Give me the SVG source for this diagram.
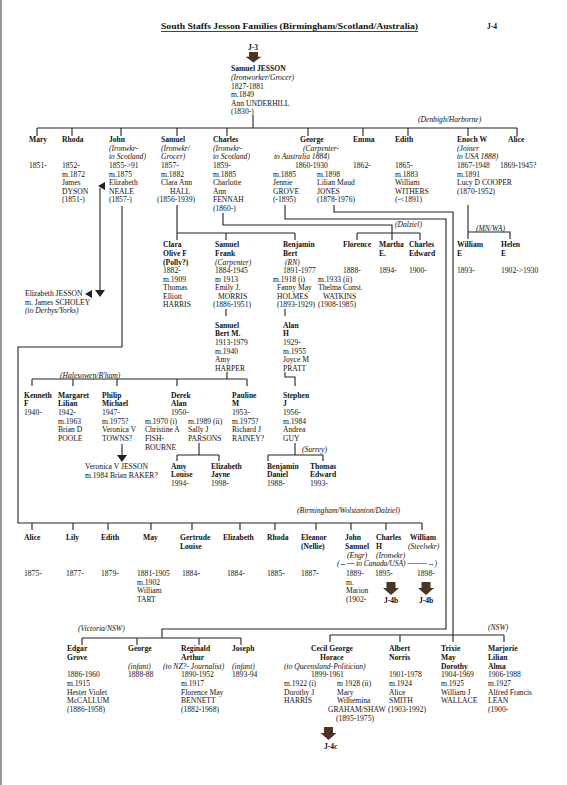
<svg xmlns="http://www.w3.org/2000/svg" width="567" height="785" viewBox="0 0 567 785">
<style>
.t{font-family:"Liberation Serif","Times New Roman",serif;font-size:7.6px;fill:#111}
.b{font-weight:bold}
.i{font-style:italic}
.ln{fill:none;stroke:#222;stroke-width:1.1}
.ah{fill:#222}
.blk{fill:#4a3426}
</style>
<defs>
<path id="barrow" d="M-4.5 0h9v6h3.5l-8 7l-8-7h3.5z"/>
</defs>
<rect x="0" y="0" width="567" height="785" fill="#fff"/>
<rect x="0" y="0" width="2" height="785" fill="#9a9a9a"/>

<g id="title">
<text class="t b" x="161" y="29" font-size="9.2" textLength="257" lengthAdjust="spacingAndGlyphs">South Staffs Jesson Families (Birmingham/Scotland/Australia)</text>
<line x1="161" y1="31.5" x2="418" y2="31.5" stroke="#111" stroke-width="0.8"/>
<text class="t b" x="487" y="29" font-size="8.5">J-4</text>
</g>

<g id="connectors">
<path class="ln" d="M253 115V128M37 128H517M37 128v8M72 128v8M121 128v8M177 128v8M227 128v8M308 128v8M363 128v8M408 128v8M468 128v8M517 128v8" stroke-width="1.4"/>
<path class="ln" d="M177 205V240M177 233H295M226 233v7M295 233v7"/>
<path class="ln" d="M223 213V225H392V240M357 233H420M357 233v7M420 233v7"/>
<path class="ln" d="M285 205V219H446V629H162V638M82 638H241M82 638v7M137 638v7M199 638v7M241 638v7"/>
<path class="ln" d="M334 205V212H453V642M330 635H504M330 635v7M400 635v7M504 635v7"/>
<path class="ln" d="M468 205V239M468 232H510V239"/>
<path class="ln" d="M122 206V347H18V523H422M32 523v7M73 523v7M108 523v7M151 523v7M192 523v7M240 523v7M275 523v7M316 523v7M351 523v7M386 523v7M422 523v7"/>
<path class="ln" d="M100 188V291"/>
<polygon class="ah" points="98,186 105,182 105,190"/>
<polygon class="ah" points="95,290 105,290 100,297"/>
<polygon class="ah" points="85,294 92,290 92,298"/>
<path class="ln" d="M226 309V316M285 309V316"/>
<path class="ln" d="M227 372V379M32 379H247M32 379v7M73 379v7M117 379v7M177 379v7M247 379v7"/>
<path class="ln" d="M285 372V377H295V386"/>
<path class="ln" d="M122 444V456"/>
<polygon class="ah" points="117,455 127,455 122,462"/>
<path class="ln" d="M199 443V455M177 455H219M177 455v6M219 455v6"/>
<path class="ln" d="M295 443V455M268 455H323M268 455v6M323 455v6"/>
</g>

<g id="labels">
<text class="t i" x="418" y="122">(Denbigh/Harborne)</text>
<text class="t i" x="395" y="227">(Dalziel)</text>
<text class="t i" x="476" y="231">(MN/WA)</text>
<text class="t i" x="60" y="378">(Halesowen/B'ham)</text>
<text class="t i" x="302" y="452">(Surrey)</text>
<text class="t i" x="297" y="513">(Birmingham/Wolstanton/Dalziel)</text>
<text class="t i" x="78" y="631">(Victoria/NSW)</text>
<text class="t i" x="488" y="630">(NSW)</text>
</g>

<g id="samuel-jesson">
<text class="t b" x="248" y="50" font-size="8.5">J-3</text>
<use href="#barrow" class="blk" transform="translate(253.5,52) scale(1,0.8)"/>
<text class="t" x="231" y="71"><tspan class="b">Samuel JESSON</tspan><tspan class="i" x="231" y="80">(Ironworker/Grocer)</tspan><tspan x="231" y="88.5">1827-1881</tspan><tspan x="231" y="97">m.1849</tspan><tspan x="231" y="105.5">Ann UNDERHILL</tspan><tspan x="231" y="114">(1830-)</tspan></text>
</g>

<g id="mary"><text class="t" x="29" y="142"><tspan class="b">Mary</tspan><tspan x="29" y="168">1851-</tspan></text></g>
<g id="rhoda"><text class="t" x="62" y="142"><tspan class="b">Rhoda</tspan><tspan x="62" y="168">1852-</tspan><tspan x="62" y="176.5">m.1872</tspan><tspan x="62" y="185">James</tspan><tspan x="62" y="193.5">DYSON</tspan><tspan x="62" y="202">(1851-)</tspan></text></g>
<g id="john"><text class="t" x="109" y="142"><tspan class="b">John</tspan><tspan class="i" x="109" y="150.5">(Ironwkr-</tspan><tspan class="i" x="109" y="159">to Scotland)</tspan><tspan x="109" y="168">1855-&gt;91</tspan><tspan x="109" y="176.5">m.1875</tspan><tspan x="109" y="185">Elizabeth</tspan><tspan x="109" y="193.5">NEALE</tspan><tspan x="109" y="202">(1857-)</tspan></text></g>
<g id="samuel"><text class="t" x="161" y="142"><tspan class="b">Samuel</tspan><tspan class="i" x="161" y="150.5">(Ironwkr/</tspan><tspan class="i" x="161" y="159">Grocer)</tspan><tspan x="161" y="168">1857-</tspan><tspan x="161" y="176.5">m.1882</tspan><tspan x="161" y="185">Clara Ann</tspan><tspan x="170" y="193.5">HALL</tspan><tspan x="157" y="202">(1856-1939)</tspan></text></g>
<g id="charles"><text class="t" x="213" y="142"><tspan class="b">Charles</tspan><tspan class="i" x="213" y="150.5">(Ironwkr-</tspan><tspan class="i" x="213" y="159">to Scotland)</tspan><tspan x="213" y="168">1859-</tspan><tspan x="213" y="176.5">m.1885</tspan><tspan x="213" y="185">Charlotte</tspan><tspan x="213" y="193.5">Ann</tspan><tspan x="213" y="202">FENNAH</tspan><tspan x="213" y="210.5">(1860-)</tspan></text></g>
<g id="george"><text class="t" x="300" y="142"><tspan class="b">George</tspan><tspan class="i" x="303" y="150.5">(Carpenter-</tspan><tspan class="i" x="274" y="159">to Australia 1884)</tspan><tspan x="295" y="168">1860-1930</tspan><tspan x="273" y="176.5">m.1885</tspan><tspan x="273" y="185">Jennie</tspan><tspan x="273" y="193.5">GROVE</tspan><tspan x="273" y="202">(-1895)</tspan><tspan x="317" y="176.5">m.1898</tspan><tspan x="317" y="185">Lilian Maud</tspan><tspan x="317" y="193.5">JONES</tspan><tspan x="317" y="202">(1878-1976)</tspan></text></g>
<g id="emma"><text class="t" x="353" y="142"><tspan class="b">Emma</tspan><tspan x="353" y="168">1862-</tspan></text></g>
<g id="edith"><text class="t" x="395" y="142"><tspan class="b">Edith</tspan><tspan x="395" y="168">1865-</tspan><tspan x="395" y="176.5">m.1883</tspan><tspan x="395" y="185">William</tspan><tspan x="395" y="193.5">WITHERS</tspan><tspan x="395" y="202">(-&lt;1891)</tspan></text></g>
<g id="enoch"><text class="t" x="457" y="142"><tspan class="b">Enoch W</tspan><tspan class="i" x="457" y="150.5">(Joiner</tspan><tspan class="i" x="457" y="159">to USA 1888)</tspan><tspan x="457" y="168">1867-1948</tspan><tspan x="457" y="176.5">m.1891</tspan><tspan x="457" y="185">Lucy D COOPER</tspan><tspan x="457" y="193.5">(1870-1952)</tspan></text></g>
<g id="alice"><text class="t" x="508" y="142"><tspan class="b">Alice</tspan><tspan x="500" y="168">1869-1945?</tspan></text></g>

<g id="clara"><text class="t" x="163" y="247"><tspan class="b">Clara</tspan><tspan class="b" x="163" y="256">Olive F</tspan><tspan class="b" x="163" y="264.5">(Polly?)</tspan><tspan x="163" y="273">1882-</tspan><tspan x="163" y="281.5">m.1909</tspan><tspan x="163" y="290">Thomas</tspan><tspan x="163" y="298.5">Elliott</tspan><tspan x="163" y="307">HARRIS</tspan></text></g>
<g id="samuel-frank"><text class="t" x="215" y="247"><tspan class="b">Samuel</tspan><tspan class="b" x="215" y="256">Frank</tspan><tspan class="i" x="215" y="264.5">(Carpenter)</tspan><tspan x="215" y="273">1884-1945</tspan><tspan x="215" y="281.5">m 1913</tspan><tspan x="215" y="290">Emily J.</tspan><tspan x="218" y="298.5">MORRIS</tspan><tspan x="213" y="307">(1886-1951)</tspan></text></g>
<g id="benjamin-bert"><text class="t" x="283" y="247"><tspan class="b">Benjamin</tspan><tspan class="b" x="283" y="256">Bert</tspan><tspan class="i" x="285" y="264.5">(RN)</tspan><tspan x="283" y="273">1891-1977</tspan><tspan x="273" y="281.5">m.1918 (i)</tspan><tspan x="277" y="290">Fanny May</tspan><tspan x="277" y="298.5">HOLMES</tspan><tspan x="277" y="307">(1893-1929)</tspan><tspan x="318" y="281.5">m.1933 (ii)</tspan><tspan x="318" y="290">Thelma Const.</tspan><tspan x="323" y="298.5">WATKINS</tspan><tspan x="318" y="307">(1908-1985)</tspan></text></g>
<g id="florence"><text class="t" x="343" y="247"><tspan class="b">Florence</tspan><tspan x="343" y="273">1888-</tspan></text></g>
<g id="martha"><text class="t" x="379" y="247"><tspan class="b">Martha</tspan><tspan class="b" x="379" y="256">E.</tspan><tspan x="379" y="273">1894-</tspan></text></g>
<g id="charles-edward"><text class="t" x="409" y="247"><tspan class="b">Charles</tspan><tspan class="b" x="409" y="256">Edward</tspan><tspan x="409" y="273">1900-</tspan></text></g>
<g id="william-e"><text class="t" x="457" y="247"><tspan class="b">William</tspan><tspan class="b" x="457" y="256">E</tspan><tspan x="457" y="273">1893-</tspan></text></g>
<g id="helen-e"><text class="t" x="501" y="247"><tspan class="b">Helen</tspan><tspan class="b" x="501" y="256">E</tspan><tspan x="501" y="273">1902-&gt;1930</tspan></text></g>

<g id="elizabeth-jesson"><text class="t" x="25" y="295.5">Elizabeth JESSON<tspan x="25" y="304.5">m. James SCHOLEY</tspan><tspan class="i" x="25" y="313">(to Derbys/Yorks)</tspan></text></g>

<g id="samuel-bert"><text class="t" x="215" y="327.5"><tspan class="b">Samuel</tspan><tspan class="b" x="215" y="336">Bert M.</tspan><tspan x="215" y="345">1913-1979</tspan><tspan x="215" y="353.5">m.1940</tspan><tspan x="215" y="362">Amy</tspan><tspan x="215" y="371">HARPER</tspan></text></g>
<g id="alan-h"><text class="t" x="283" y="327.5"><tspan class="b">Alan</tspan><tspan class="b" x="283" y="336">H</tspan><tspan x="283" y="345">1929-</tspan><tspan x="283" y="353.5">m.1955</tspan><tspan x="283" y="362">Joyce M</tspan><tspan x="283" y="371">PRATT</tspan></text></g>

<g id="kenneth"><text class="t" x="24" y="397.5"><tspan class="b">Kenneth</tspan><tspan class="b" x="24" y="406">F</tspan><tspan x="24" y="414.5">1940-</tspan></text></g>
<g id="margaret"><text class="t" x="58" y="397.5"><tspan class="b">Margaret</tspan><tspan class="b" x="58" y="406">Lilian</tspan><tspan x="58" y="414.5">1942-</tspan><tspan x="58" y="423.5">m.1963</tspan><tspan x="58" y="432">Brian D</tspan><tspan x="58" y="441">POOLE</tspan></text></g>
<g id="philip"><text class="t" x="102" y="397.5"><tspan class="b">Philip</tspan><tspan class="b" x="102" y="406">Michael</tspan><tspan x="102" y="414.5">1947-</tspan><tspan x="102" y="423.5">m.1975?</tspan><tspan x="102" y="432">Veronica V</tspan><tspan x="102" y="441">TOWNS?</tspan></text></g>
<g id="derek"><text class="t" x="171" y="397.5"><tspan class="b">Derek</tspan><tspan class="b" x="171" y="406">Alan</tspan><tspan x="171" y="414.5">1950-</tspan><tspan x="145" y="423.5">m.1970 (i)</tspan><tspan x="145" y="432">Christine A</tspan><tspan x="145" y="441">FISH-</tspan><tspan x="145" y="450">BOURNE</tspan><tspan x="188" y="423.5">m.1989 (ii)</tspan><tspan x="188" y="432">Sally J</tspan><tspan x="188" y="441">PARSONS</tspan></text></g>
<g id="pauline"><text class="t" x="232" y="397.5"><tspan class="b">Pauline</tspan><tspan class="b" x="232" y="406">M</tspan><tspan x="232" y="414.5">1953-</tspan><tspan x="232" y="423.5">m.1975?</tspan><tspan x="232" y="432">Richard J</tspan><tspan x="232" y="441">RAINEY?</tspan></text></g>
<g id="stephen"><text class="t" x="283" y="397.5"><tspan class="b">Stephen</tspan><tspan class="b" x="283" y="406">J</tspan><tspan x="283" y="414.5">1956-</tspan><tspan x="283" y="423.5">m.1984</tspan><tspan x="283" y="432">Andrea</tspan><tspan x="283" y="441">GUY</tspan></text></g>

<g id="veronica"><text class="t" x="85" y="469">Veronica V JESSON<tspan x="85" y="477.5">m.1984 Brian BAKER?</tspan></text></g>
<g id="amy"><text class="t" x="171" y="468.5"><tspan class="b">Amy</tspan><tspan class="b" x="171" y="477">Louise</tspan><tspan x="171" y="486">1994-</tspan></text></g>
<g id="elizabeth-jayne"><text class="t" x="211" y="468.5"><tspan class="b">Elizabeth</tspan><tspan class="b" x="211" y="477">Jayne</tspan><tspan x="211" y="486">1998-</tspan></text></g>
<g id="benjamin-daniel"><text class="t" x="267" y="468.5"><tspan class="b">Benjamin</tspan><tspan class="b" x="267" y="477">Daniel</tspan><tspan x="267" y="486">1988-</tspan></text></g>
<g id="thomas-edward"><text class="t" x="310" y="468.5"><tspan class="b">Thomas</tspan><tspan class="b" x="310" y="477">Edward</tspan><tspan x="310" y="486">1993-</tspan></text></g>

<g id="alice2"><text class="t" x="24" y="540"><tspan class="b">Alice</tspan><tspan x="24" y="576">1875-</tspan></text></g>
<g id="lily"><text class="t" x="66" y="540"><tspan class="b">Lily</tspan><tspan x="66" y="576">1877-</tspan></text></g>
<g id="edith2"><text class="t" x="101" y="540"><tspan class="b">Edith</tspan><tspan x="101" y="576">1879-</tspan></text></g>
<g id="may"><text class="t" x="143" y="540"><tspan class="b">May</tspan><tspan x="137" y="576">1881-1905</tspan><tspan x="137" y="584.5">m.1902</tspan><tspan x="137" y="593">William</tspan><tspan x="137" y="601.5">TART</tspan></text></g>
<g id="gertrude"><text class="t" x="180" y="540"><tspan class="b">Gertrude</tspan><tspan class="b" x="180" y="549">Louise</tspan><tspan x="182" y="576">1884-</tspan></text></g>
<g id="elizabeth2"><text class="t" x="223" y="540"><tspan class="b">Elizabeth</tspan><tspan x="227" y="576">1884-</tspan></text></g>
<g id="rhoda2"><text class="t" x="267" y="540"><tspan class="b">Rhoda</tspan><tspan x="267" y="576">1885-</tspan></text></g>
<g id="eleanor"><text class="t" x="301" y="540"><tspan class="b">Eleanor</tspan><tspan class="b" x="301" y="549">(Nellie)</tspan><tspan x="301" y="576">1887-</tspan></text></g>
<g id="john-samuel"><text class="t" x="345" y="540"><tspan class="b">John</tspan><tspan class="b" x="345" y="549">Samuel</tspan><tspan class="i" x="347" y="557.5">(Engr)</tspan><tspan x="346" y="576">1889-</tspan><tspan x="346" y="584.5">m.</tspan><tspan x="346" y="593">Marion</tspan><tspan x="346" y="601.5">(1902-</tspan></text></g>
<g id="charles-h"><text class="t" x="376" y="540"><tspan class="b">Charles</tspan><tspan class="b" x="376" y="549">H</tspan><tspan class="i" x="376" y="557.5">(Ironwkr)</tspan><tspan x="375" y="576">1895-</tspan></text>
<use href="#barrow" class="blk" transform="translate(391,582)"/>
<text class="t b" x="384" y="603">J-4b</text></g>
<g id="william2"><text class="t" x="410" y="540"><tspan class="b">William</tspan><tspan class="i" x="408" y="549">(Steelwkr)</tspan><tspan x="417" y="576">1898-</tspan></text>
<use href="#barrow" class="blk" transform="translate(426,582)"/>
<text class="t b" x="419" y="603">J-4b</text></g>
<text class="t i" x="337" y="566" textLength="100" lengthAdjust="spacing">(←--- to Canada/USA) --------→)</text>

<g id="edgar"><text class="t" x="67" y="650.5"><tspan class="b">Edgar</tspan><tspan class="b" x="67" y="659.5">Grove</tspan><tspan x="67" y="677">1886-1960</tspan><tspan x="67" y="686">m.1915</tspan><tspan x="67" y="694.5">Hester Violet</tspan><tspan x="67" y="703">McCALLUM</tspan><tspan x="67" y="712">(1886-1958)</tspan></text></g>
<g id="george2"><text class="t" x="128" y="650.5"><tspan class="b">George</tspan><tspan class="i" x="128" y="668.5">(infant)</tspan><tspan x="128" y="677">1888-88</tspan></text></g>
<g id="reginald"><text class="t" x="181" y="650.5"><tspan class="b">Reginald</tspan><tspan class="b" x="181" y="659.5">Arthur</tspan><tspan class="i" x="163" y="668.5">(to NZ?- Journalist)</tspan><tspan x="181" y="677">1890-1952</tspan><tspan x="181" y="686">m.1917</tspan><tspan x="181" y="694.5">Florence May</tspan><tspan x="181" y="703">BENNETT</tspan><tspan x="181" y="712">(1882-1968)</tspan></text></g>
<g id="joseph"><text class="t" x="232" y="650.5"><tspan class="b">Joseph</tspan><tspan class="i" x="232" y="668.5">(infant)</tspan><tspan x="232" y="677">1893-94</tspan></text></g>
<g id="cecil"><text class="t" x="311" y="650.5"><tspan class="b">Cecil George</tspan><tspan class="b" x="320" y="659.5">Horace</tspan><tspan class="i" x="284" y="668.5">(to Queensland-Politician)</tspan><tspan x="311" y="677">1899-1961</tspan><tspan x="284" y="686">m.1922 (i)</tspan><tspan x="284" y="694.5">Dorothy J</tspan><tspan x="284" y="703">HARRIS</tspan><tspan x="337" y="686">m 1928 (ii)</tspan><tspan x="337" y="694.5">Mary</tspan><tspan x="337" y="703">Wilhemina</tspan><tspan x="328" y="712">GRAHAM/SHAW</tspan><tspan x="336" y="721">(1895-1975)</tspan></text>
<use href="#barrow" class="blk" transform="translate(328.5,727)"/>
<text class="t b" x="324" y="749">J-4c</text></g>
<g id="albert"><text class="t" x="389" y="650.5"><tspan class="b">Albert</tspan><tspan class="b" x="389" y="659.5">Norris</tspan><tspan x="389" y="677">1901-1978</tspan><tspan x="389" y="686">m.1924</tspan><tspan x="389" y="694.5">Alice</tspan><tspan x="389" y="703">SMITH</tspan><tspan x="388" y="712">(1903-1992)</tspan></text></g>
<g id="trixie"><text class="t" x="441" y="650.5"><tspan class="b">Trixie</tspan><tspan class="b" x="441" y="659.5">May</tspan><tspan class="b" x="441" y="668.5">Dorothy</tspan><tspan x="441" y="677">1904-1969</tspan><tspan x="441" y="686">m.1925</tspan><tspan x="441" y="694.5">William J</tspan><tspan x="441" y="703">WALLACE</tspan></text></g>
<g id="marjorie"><text class="t" x="488" y="650.5"><tspan class="b">Marjorie</tspan><tspan class="b" x="488" y="659.5">Lilian</tspan><tspan class="b" x="488" y="668.5">Alma</tspan><tspan x="488" y="677">1906-1988</tspan><tspan x="488" y="686">m.1927</tspan><tspan x="488" y="694.5">Alfred Francis</tspan><tspan x="488" y="703">LEAN</tspan><tspan x="488" y="712">(1900-</tspan></text></g>
</svg>
